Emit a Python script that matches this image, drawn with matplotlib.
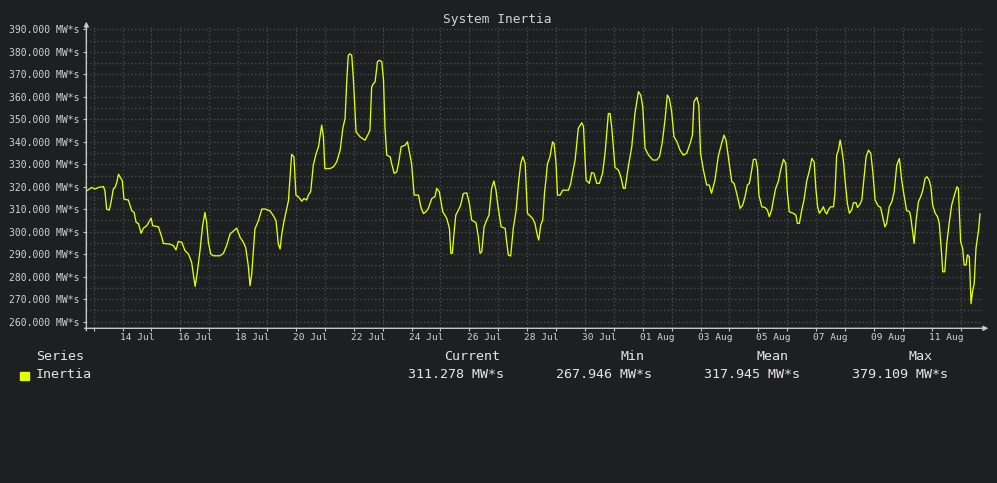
import datetime as dt

import numpy as np
import matplotlib
matplotlib.use('Agg')
import matplotlib.pyplot as plt
import matplotlib.dates as mdates


# series: days after 14 Jul 00:00 and inertia in MW*s
day_offset = [
    -1.24, -1.07, -0.95, -0.84, -0.66, -0.61, -0.55, -0.46, -0.40, -0.32,
    -0.26, -0.20, -0.14, -0.09, -0.01, 0.05, 0.20, 0.32, 0.40, 0.47,
    0.55, 0.64, 0.72, 0.84, 0.99, 1.04, 1.24, 1.36, 1.41, 1.64,
    1.76, 1.85, 1.93, 2.05, 2.16, 2.28, 2.39, 2.51, 2.57, 2.68,
    2.77, 2.85, 2.91, 2.97, 3.05, 3.14, 3.37, 3.49, 3.60, 3.72,
    3.95, 4.07, 4.18, 4.26, 4.35, 4.41, 4.47, 4.58, 4.70, 4.82,
    4.93, 5.10, 5.22, 5.31, 5.39, 5.45, 5.51, 5.59, 5.74, 5.85,
    5.93, 6.00, 6.08, 6.20, 6.28, 6.37, 6.43, 6.51, 6.60, 6.70,
    6.78, 6.89, 6.95, 7.00, 7.18, 7.30, 7.41, 7.53, 7.62, 7.70,
    7.76, 7.81, 7.87, 7.93, 7.99, 8.08, 8.22, 8.39, 8.51, 8.56,
    8.62, 8.68, 8.74, 8.82, 8.89, 8.97, 9.03, 9.08, 9.14, 9.26,
    9.31, 9.40, 9.49, 9.55, 9.64, 9.78, 9.86, 9.89, 10.00, 10.09,
    10.24, 10.32, 10.41, 10.50, 10.58, 10.70, 10.81, 10.87, 10.96, 11.08,
    11.22, 11.31, 11.36, 11.41, 11.47, 11.53, 11.62, 11.70, 11.79, 11.91,
    12.00, 12.08, 12.23, 12.31, 12.37, 12.43, 12.51, 12.60, 12.68, 12.77,
    12.85, 12.92, 13.00, 13.10, 13.24, 13.29, 13.35, 13.43, 13.52, 13.62,
    13.70, 13.78, 13.85, 13.93, 14.01, 14.19, 14.27, 14.35, 14.40, 14.47,
    14.54, 14.60, 14.65, 14.70, 14.79, 14.88, 14.93, 15.00, 15.05, 15.14,
    15.23, 15.43, 15.51, 15.58, 15.66, 15.77, 15.89, 15.95, 16.04, 16.15,
    16.23, 16.31, 16.41, 16.50, 16.61, 16.70, 16.81, 16.87, 16.93, 17.04,
    17.16, 17.24, 17.33, 17.39, 17.50, 17.62, 17.73, 17.85, 17.93, 18.00,
    18.08, 18.20, 18.35, 18.48, 18.58, 18.67, 18.77, 18.85, 18.92, 19.00,
    19.08, 19.18, 19.29, 19.40, 19.52, 19.64, 19.72, 19.77, 19.87, 19.94,
    20.00, 20.10, 20.21, 20.30, 20.38, 20.50, 20.61, 20.73, 20.81, 20.88,
    20.96, 21.08, 21.16, 21.25, 21.37, 21.46, 21.54, 21.62, 21.69, 21.77,
    21.83, 21.91, 21.97, 22.02, 22.12, 22.23, 22.31, 22.38, 22.46, 22.52,
    22.60, 22.69, 22.77, 22.87, 22.95, 23.00, 23.07, 23.21, 23.30, 23.35,
    23.42, 23.50, 23.58, 23.67, 23.77, 23.85, 23.93, 23.99, 24.05, 24.11,
    24.19, 24.25, 24.31, 24.37, 24.42, 24.50, 24.60, 24.65, 24.71, 24.77,
    24.83, 24.88, 24.94, 25.00, 25.08, 25.15, 25.23, 25.29, 25.38, 25.43,
    25.50, 25.58, 25.66, 25.73, 25.81, 25.89, 25.96, 26.04, 26.15, 26.23,
    26.30, 26.38, 26.44, 26.53, 26.62, 26.70, 26.79, 26.88, 26.96, 27.04,
    27.13, 27.23, 27.27, 27.34, 27.39, 27.46, 27.54, 27.62, 27.69, 27.77,
    27.83, 27.91, 27.97, 28.03, 28.12, 28.20, 28.26, 28.34, 28.38, 28.45,
    28.52, 28.61, 28.69, 28.77, 28.87, 28.92, 29.00, 29.07, 29.12, 29.19,
    29.23, 29.30, 29.36, 29.41, 29.47, 29.53, 29.62, 29.67,
]
inertia = [
    318.2, 319.7, 319.0, 319.7, 320.1, 318.2, 310.1, 309.6, 313.0, 319.0,
    319.7, 321.9, 325.6, 324.4, 322.7, 314.5, 314.1, 309.3, 308.6, 304.1,
    303.7, 299.3, 301.6, 302.7, 306.1, 302.7, 302.2, 297.5, 294.8, 294.5,
    293.8, 291.9, 295.7, 295.3, 291.6, 290.1, 286.4, 275.7, 280.4, 291.6,
    302.7, 308.6, 304.1, 295.3, 290.1, 289.3, 289.3, 290.4, 293.8, 299.0,
    301.6, 297.5, 295.3, 293.0, 284.9, 276.0, 281.2, 301.2, 304.9, 310.1,
    310.1, 309.3, 307.1, 304.9, 294.5, 292.3, 299.0, 304.9, 313.8, 334.4,
    333.3, 316.3, 315.6, 313.6, 314.8, 314.1, 316.3, 317.8, 329.6, 334.8,
    337.8, 347.4, 342.2, 328.1, 328.1, 328.9, 331.1, 336.3, 345.9, 350.4,
    367.4, 378.5, 379.1, 378.5, 367.4, 344.4, 342.2, 340.7, 343.7, 345.2,
    364.4, 365.9, 366.7, 375.6, 376.3, 375.6, 367.4, 346.7, 334.1, 333.3,
    330.4, 325.9, 326.7, 330.4, 337.8, 338.5, 340.0, 337.8, 330.4, 316.3,
    316.3, 311.1, 308.1, 308.9, 310.4, 314.8, 315.6, 319.3, 317.8, 308.9,
    305.9, 301.5, 290.4, 290.4, 299.3, 307.4, 309.6, 311.9, 317.0, 317.3,
    312.6, 305.2, 304.0, 297.8, 290.4, 291.1, 302.2, 305.2, 307.4, 319.3,
    322.6, 318.5, 310.4, 302.2, 301.5, 295.6, 289.6, 289.2, 301.5, 309.7,
    321.5, 330.4, 333.4, 330.4, 308.2, 305.9, 303.7, 298.5, 296.3, 303.0,
    305.2, 317.1, 323.0, 330.1, 333.4, 340.0, 339.3, 330.4, 316.3, 316.3,
    318.5, 318.5, 321.5, 326.7, 331.9, 346.0, 348.5, 346.7, 323.0, 321.5,
    326.3, 326.0, 321.5, 321.5, 326.0, 335.6, 352.6, 352.6, 346.0, 328.6,
    327.4, 324.5, 319.3, 319.3, 328.9, 337.8, 352.6, 362.3, 360.8, 355.6,
    337.1, 334.1, 331.9, 331.9, 333.4, 339.3, 349.7, 360.8, 359.3, 353.4,
    342.3, 340.1, 336.3, 334.1, 334.9, 339.3, 343.0, 357.8, 359.8, 356.3,
    334.9, 327.4, 320.8, 320.8, 317.1, 323.0, 333.4, 339.3, 343.0, 340.8,
    333.4, 322.3, 321.5, 317.1, 310.4, 311.9, 315.6, 320.8, 321.5, 327.4,
    332.2, 332.2, 328.2, 316.3, 311.1, 310.8, 309.7, 306.7, 309.7, 314.1,
    319.3, 322.3, 327.4, 332.2, 330.4, 317.8, 308.9, 308.2, 307.4, 303.7,
    303.7, 309.6, 314.1, 322.3, 327.4, 332.6, 331.1, 319.3, 311.1, 308.2,
    309.7, 311.1, 308.9, 307.9, 309.7, 311.1, 311.1, 317.0, 334.1, 336.3,
    340.8, 337.1, 331.9, 323.0, 312.6, 308.2, 309.7, 312.9, 312.9, 310.8,
    311.9, 314.1, 324.5, 333.4, 336.3, 334.9, 326.7, 314.1, 311.4, 310.8,
    306.7, 302.2, 303.7, 311.1, 313.4, 317.8, 329.7, 332.6, 323.0, 316.3,
    309.4, 308.9, 306.7, 300.0, 294.8, 305.2, 313.4, 315.6, 318.5, 323.7,
    324.5, 323.0, 320.0, 311.9, 308.2, 306.7, 303.7, 290.4, 282.2, 282.2,
    294.8, 304.5, 311.9, 315.6, 320.0, 319.3, 295.6, 292.6, 285.2, 285.2,
    289.7, 288.9, 268.0, 273.3, 277.0, 292.6, 300.8, 308.0,
]

stat_names = ['Current', 'Min', 'Mean', 'Max']
stat_values = [311.278, 267.946, 317.945, 379.109]
series_name = 'Inertia'
unit = 'MW*s'

bg_color = '#1e1f21'
grid_color = '#505154'
axis_color = '#c8c8c8'
text_color = '#d2d2d2'
legend_text = '#e6e6e6'
line_color = '#e0ff00'

plt.rcParams['font.family'] = ['DejaVu Sans Mono', 'DejaVu Sans']

base = mdates.date2num(dt.datetime(2024, 7, 14))
x = base + np.array(day_offset)

fig = plt.figure(figsize=(9.97, 4.83), dpi=100)
fig.patch.set_facecolor(bg_color)
ax = fig.add_axes([0.0866, 0.3203, 0.8994, 0.6244])
ax.set_facecolor(bg_color)

ax.plot(x, inertia, color=line_color, lw=0.95, solid_joinstyle='round', zorder=3)

ax.set_xlim(base - 1.253, base + 29.775)
ax.set_ylim(257.05, 391.2)

# grid every day (midnight), labels at noon every 2 days
day_ticks = base + np.arange(-1, 30)
ax.set_xticks(day_ticks)
ax.set_xticklabels([])
label_days = base + np.arange(0, 29, 2) + 0.5
ax.set_xticks(label_days, minor=True)
ax.set_xticklabels([mdates.num2date(d).strftime('%d %b') for d in label_days], minor=True)

ax.set_yticks(np.arange(260, 391, 10))
ax.set_yticklabels(['%.3f %s' % (v, unit) for v in np.arange(260, 391, 10)])
ax.set_yticks(np.arange(265, 390, 5), minor=True)

ax.tick_params(axis='x', which='major', length=2.2, width=0.8, color=axis_color)
ax.tick_params(axis='x', which='minor', length=0, pad=3.5, labelsize=6.8, labelcolor=text_color)
ax.tick_params(axis='y', which='major', length=2.2, width=0.8, color=axis_color,
               pad=2.5, labelsize=7, labelcolor=text_color)
ax.tick_params(axis='y', which='minor', length=0)

ax.grid(True, axis='x', which='major', color=grid_color, lw=0.9, ls=(0, (1, 2)))
ax.grid(True, axis='y', which='both', color=grid_color, lw=0.9, ls=(0, (1, 2)))
ax.set_axisbelow(True)

# axis lines with arrow heads
for s in ax.spines.values():
    s.set_visible(False)
ax.annotate('', xy=(1.006, 0), xytext=(-0.002, 0), xycoords='axes fraction',
            arrowprops=dict(arrowstyle='-|>', color=axis_color, lw=1.0,
                            mutation_scale=7, shrinkA=0, shrinkB=0))
ax.annotate('', xy=(0, 1.017), xytext=(0, -0.008), xycoords='axes fraction',
            arrowprops=dict(arrowstyle='-|>', color=axis_color, lw=1.0,
                            mutation_scale=7, shrinkA=0, shrinkB=0))

fig.text(0.4985, 1 - 19 / 483, 'System Inertia', ha='center', va='center',
         fontsize=9.3, color=text_color)

# legend table
W, H = 997, 483
fig.text(36 / W, 1 - 356.5 / H, 'Series', ha='left', va='center', fontsize=9.6, color=legend_text)
fig.text(36 / W, 1 - 374.5 / H, series_name, ha='left', va='center', fontsize=9.6, color=legend_text)
fig.patches.append(plt.Rectangle((20 / W, 1 - 379.5 / H), 9 / W, 8 / H,
                                 transform=fig.transFigure, color=line_color))
head_right = [500, 644, 788, 932]
val_right = [504, 652, 800, 948]
for name, val, hx, vx in zip(stat_names, stat_values, head_right, val_right):
    fig.text(hx / W, 1 - 356.5 / H, name, ha='right', va='center', fontsize=9.6, color=legend_text)
    fig.text(vx / W, 1 - 374.5 / H, '%.3f %s' % (val, unit), ha='right', va='center',
             fontsize=9.6, color=legend_text)

fig.savefig('out.png', dpi=100, facecolor=bg_color)
